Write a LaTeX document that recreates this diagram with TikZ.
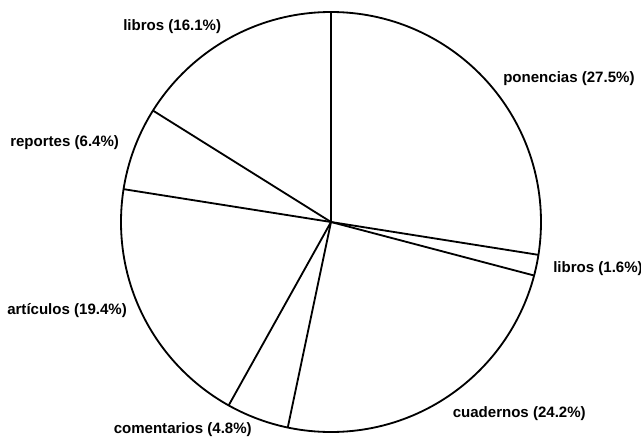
\documentclass[tikz,border=0pt]{standalone}
\usepackage{fontspec}
\setmainfont{Liberation Sans}

\begin{document}
\begin{tikzpicture}[scale=0.025,
        wedge/.style={black, line width=1.3pt},
        lbl/.style={font=\bfseries\fontsize{10.7}{12}\selectfont, inner sep=0pt}
      ]
        \useasboundingbox (-331,-216) rectangle (310,222);

        % pie
        \coordinate (c) at (0,0);
        \draw[wedge] (c) circle (210);
        \foreach \i/\angle in {0/90, 1/-9, 2/-14.76, 3/-101.88, 4/-119.16, 5/171, 6/147.96} {
          \coordinate (p\i) at (\angle:210);
          \draw[wedge] (c) -- (p\i);
        }

        % labels
        \node[lbl, anchor=west] (libA) at (-208,195) {libros (16.1\%)};
        \node[lbl, anchor=west] (ponencias) at (172,143) {ponencias (27.5\%)};
        \node[lbl, anchor=west] (reportes) at (-321,79) {reportes (6.4\%)};
        \node[lbl, anchor=west] (articulos) at (-324,-89) {artículos (19.4\%)};
        \node[lbl, anchor=east] (comentarios) at (-79,-208) {comentarios (4.8\%)};
        \node[lbl, anchor=west] (libB) at (222,-47) {libros (1.6\%)};
        \node[lbl, anchor=east] (cuadernos) at (255,-192) {cuadernos (24.2\%)};

      \end{tikzpicture}
\end{document}
